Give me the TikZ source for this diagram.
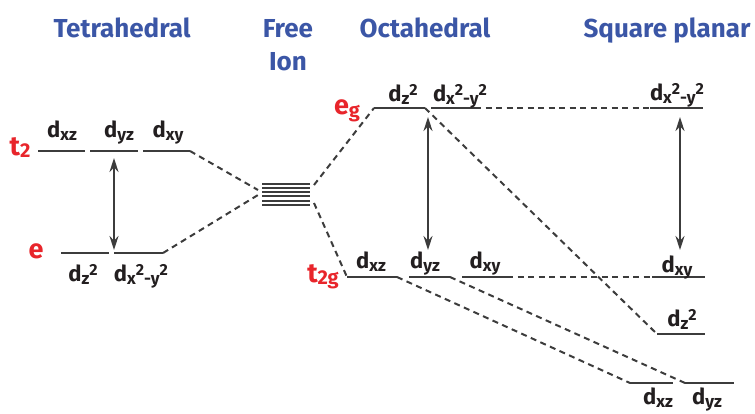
\documentclass[tikz,border=0pt]{standalone}
\usepackage{fontspec}
\setmainfont{Fira Sans}
\usetikzlibrary{arrows.meta}
\definecolor{ttl}{HTML}{3B56A6}
\definecolor{lbl}{HTML}{E8252B}
\definecolor{lvl}{HTML}{3C3C3C}
\definecolor{txt}{HTML}{231F20}
\newcommand\sbx[1]{\raisebox{-0.3ex}{\fontsize{17}{17}\selectfont #1}}
\newcommand\spx[1]{\raisebox{0.45ex}{\fontsize{16}{16}\selectfont #1}}
\newcommand\dxz{d\sbx{xz}}
\newcommand\dyz{d\sbx{yz}}
\newcommand\dxy{d\sbx{xy}}
\newcommand\dzz{d\sbx{z}\spx{2}}
\newcommand\dxxyy{d\sbx{x}\spx{2}\sbx{-y}\spx{2}}
\begin{document}
\begin{tikzpicture}[x=1pt,y=-1pt,
  level/.style={draw=lvl, line width=2.5pt},
  link/.style={draw=lvl, line width=2pt, dash pattern=on 6pt off 4.5pt},
  gap/.style={{Stealth[length=14pt,width=9pt]}-{Stealth[length=14pt,width=9pt]}, line width=1.6pt, draw=lvl},
  title/.style={font=\fontsize{26}{33}\selectfont\bfseries, text=ttl, anchor=base, inner sep=0pt},
  orb/.style={font=\fontsize{22}{22}\selectfont\bfseries, text=txt, anchor=base, inner sep=0pt},
  grp/.style={font=\fontsize{27}{27}\selectfont\bfseries, text=lbl, anchor=base, inner sep=0pt}]
\useasboundingbox (0,0) rectangle (755,413);
% titles
\node[title] (ttet) at (122,37) {Tetrahedral};
\node[title] (tfree) at (288,37) {Free};
\node[title] (tion) at (288,70) {Ion};
\node[title] (toct) at (425,37) {Octahedral};
\node[title] (tsq) at (667,37) {Square planar};
% ---------- tetrahedral ----------
\coordinate (t2aL) at (38,151); \coordinate (t2aR) at (85,151);
\coordinate (t2bL) at (90,151); \coordinate (t2bR) at (138,151);
\coordinate (t2cL) at (143,151); \coordinate (t2cR) at (190,151);
\coordinate (eaL) at (61,253); \coordinate (eaR) at (109,253);
\coordinate (ebL) at (114,253); \coordinate (ebR) at (163,253);
\draw[level] (t2aL) -- (t2aR); \draw[level] (t2bL) -- (t2bR); \draw[level] (t2cL) -- (t2cR);
\draw[level] (eaL) -- (eaR); \draw[level] (ebL) -- (ebR);
\coordinate (tarT) at (114,158); \coordinate (tarB) at (114,250);
\draw[gap] (tarT) -- (tarB);
\node[grp] (lt2) at (20,155) {t\raisebox{-0.2ex}{\fontsize{20}{20}\selectfont 2}};
\node[grp] (le) at (36,258) {e};
\node[orb] (ot1) at (62,137) {\dxz};
\node[orb] (ot2) at (119,137) {\dyz};
\node[orb] (ot3) at (168,137) {\dxy};
\node[orb] (oe1) at (83,281) {\dzz};
\node[orb] (oe2) at (141,281) {\dxxyy};
% ---------- free ion ----------
\foreach \i in {0,...,5}{
  \draw[level, line width=2pt] (262,{183.5+4.3*\i}) -- (310,{183.5+4.3*\i});
}
\coordinate (fLt) at (258,190); \coordinate (fLb) at (258,195);
\coordinate (fRt) at (314,185); \coordinate (fRb) at (314,203);
% ---------- octahedral ----------
\coordinate (egaL) at (374,108); \coordinate (egaR) at (425,108);
\coordinate (egbL) at (431,108); \coordinate (egbR) at (475,108);
\draw[level] (egaL) -- (egaR); \draw[level] (egbL) -- (egbR);
\coordinate (tgaL) at (347,277); \coordinate (tgaR) at (397,277);
\coordinate (tgbL) at (409,277); \coordinate (tgbR) at (450,277);
\coordinate (tgcL) at (462,277); \coordinate (tgcR) at (507,277);
\draw[level] (tgaL) -- (tgaR); \draw[level] (tgbL) -- (tgbR); \draw[level] (tgcL) -- (tgcR);
\coordinate (oarT) at (428,117); \coordinate (oarB) at (428,250);
\draw[gap] (oarT) -- (oarB);
\node[grp] (leg) at (347,114) {e\raisebox{-0.25ex}{\fontsize{20}{20}\selectfont g}};
\node[grp] (lt2g) at (323,282) {t\raisebox{-0.2ex}{\fontsize{20}{20}\selectfont 2g}};
\node[orb] (og1) at (403,101) {\dzz};
\node[orb] (og2) at (460,101) {\dxxyy};
\node[orb] (oo1) at (371,268) {\dxz};
\node[orb] (oo2) at (425,268) {\dyz};
\node[orb] (oo3) at (485,268) {\dxy};
% ---------- square planar ----------
\coordinate (sxL) at (650,108); \coordinate (sxR) at (703,108);
\coordinate (syL) at (652,277); \coordinate (syR) at (705,277);
\coordinate (szL) at (657,334); \coordinate (szR) at (705,334);
\coordinate (saL) at (630,383); \coordinate (saR) at (673,383);
\coordinate (sbL) at (685,383); \coordinate (sbR) at (734,383);
\draw[level] (sxL) -- (sxR); \draw[level] (syL) -- (syR); \draw[level] (szL) -- (szR);
\draw[level] (saL) -- (saR); \draw[level] (sbL) -- (sbR);
\coordinate (sarT) at (680,117); \coordinate (sarB) at (680,250);
\draw[gap] (sarT) -- (sarB);
\node[orb] (os1) at (677,100) {\dxxyy};
\node[orb] (os2) at (677,272) {\dxy};
\node[orb] (os3) at (682,326) {\dzz};
\node[orb] (os4) at (658,404) {\dxz};
\node[orb] (os5) at (707,404) {\dyz};
% ---------- connectors ----------
\draw[link] (t2cR) -- (fLt);
\draw[link] (ebR) -- (fLb);
\draw[link] (fRt) -- (egaL);
\draw[link] (fRb) -- (tgaL);
\draw[link] (egbR) -- (sxL);
\draw[link] (egaR) -- (szL);
\draw[link] (tgcR) -- (syL);
\draw[link] (tgaR) -- (saL);
\draw[link] (tgbR) -- (sbL);
\end{tikzpicture}
\end{document}
